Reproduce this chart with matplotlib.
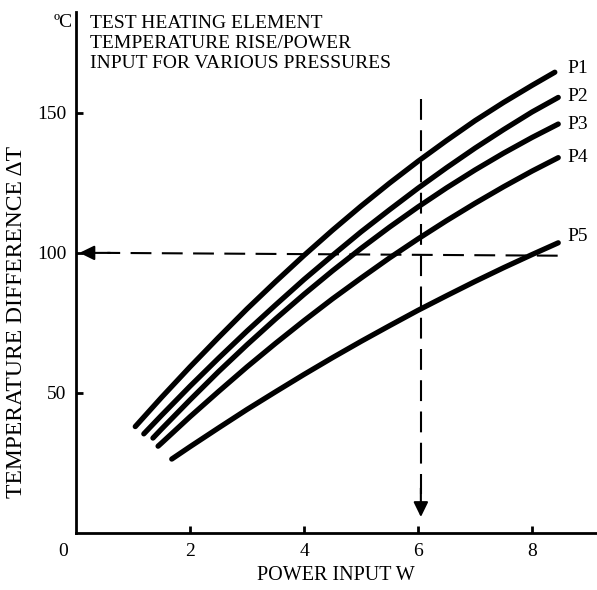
import matplotlib.pyplot as plt

plt.rcParams['font.family'] = ['Liberation Serif', 'DejaVu Serif']

# curves: power input W vs temperature rise
grid_x = [2.0, 2.5, 3.0, 3.5, 4.0, 4.5, 5.0, 5.5, 6.0, 6.5, 7.0, 7.5, 8.0]

p1_x = [1.04, 1.5] + grid_x + [8.40]
p1_y = [38.0, 48.4, 59.3, 69.8, 80.0, 89.7, 99.1, 108.1, 116.7, 124.9, 132.7, 140.1, 147.2, 153.7, 159.8, 164.5]
p2_x = [1.19, 1.5] + grid_x + [8.46]
p2_y = [35.4, 42.0, 52.4, 62.4, 72.1, 81.4, 90.5, 99.1, 107.5, 115.4, 123.1, 130.4, 137.4, 144.0, 150.3, 155.5]
p3_x = [1.35, 1.5] + grid_x + [8.46]
p3_y = [33.9, 37.1, 47.5, 57.6, 67.2, 76.4, 85.2, 93.6, 101.6, 109.2, 116.4, 123.2, 129.6, 135.6, 141.2, 146.0]
p4_x = [1.44, 1.5] + grid_x + [8.46]
p4_y = [31.0, 32.1, 41.5, 50.5, 59.3, 67.7, 75.8, 83.6, 91.0, 98.2, 105.0, 111.5, 117.7, 123.6, 129.2, 134.0]
p5_x = [1.68] + grid_x + [8.46]
p5_y = [26.4, 30.8, 37.5, 44.1, 50.4, 56.6, 62.6, 68.4, 74.0, 79.5, 84.7, 89.8, 94.7, 99.4, 103.6]

curves = [(p1_x, p1_y), (p2_x, p2_y), (p3_x, p3_y), (p4_x, p4_y), (p5_x, p5_y)]
curve_names = ["P1", "P2", "P3", "P4", "P5"]
name_y = [166.0, 155.7, 145.7, 134.0, 105.7]

x_ticks = [2, 4, 6, 8]
y_ticks = [50, 100, 150]

title_lines = ["TEST HEATING ELEMENT", "TEMPERATURE RISE/POWER", "INPUT FOR VARIOUS PRESSURES"]

# example reading: 6 W and 100 degrees
read_x = 6.05
read_y = 100.0

fig = plt.figure(figsize=(5.97, 5.90), dpi=100)
ax = fig.add_axes([76/597, 57/590, 521/597, 521/590])
ax.set_xlim(0, 9.14)
ax.set_ylim(0, 186)

for (xs, ys) in curves:
    ax.plot(xs, ys, color='black', lw=3.8, solid_capstyle='round', solid_joinstyle='round')

for name, yy in zip(curve_names, name_y):
    ax.text(8.62, yy, name, fontsize=14, va='center', ha='left')

# dashed reading lines with arrows
dash = (0, (10, 5))
arrow = dict(arrowstyle='-|>,head_length=0.45,head_width=0.22',
             color='black', lw=1.5, mutation_scale=20, shrinkA=0, shrinkB=0)
ax.plot([read_x, read_x], [155, 14], color='black', lw=1.5, linestyle=dash)
ax.annotate('', xy=(read_x, 5.7), xytext=(read_x, 16), arrowprops=arrow)
ax.plot([8.45, 0.55], [read_y - 1, read_y], color='black', lw=1.5, linestyle=dash)
ax.annotate('', xy=(0.06, read_y), xytext=(0.6, read_y), arrowprops=arrow)

for s in ['top', 'right']:
    ax.spines[s].set_visible(False)
for s in ['left', 'bottom']:
    ax.spines[s].set_linewidth(2)

ax.set_xticks(x_ticks)
ax.set_yticks(y_ticks)
ax.tick_params(direction='in', length=5, width=2, labelsize=14, pad=7)
ax.annotate('0', xy=(0, 0), xytext=(-9, -7), textcoords='offset points',
            fontsize=14, ha='center', va='top', annotation_clip=False)

fig.text(336/597, 1 - 576/590, 'POWER INPUT W', fontsize=14.5, ha='center', va='center')
fig.text(17/597, 1 - 322/590, 'TEMPERATURE DIFFERENCE \u0394T', rotation=90,
         fontsize=17, ha='center', va='center')

fig.text(63/597, 1 - 27/590, '\u00baC', fontsize=14, ha='center', va='baseline')
for i, line in enumerate(title_lines):
    fig.text(90/597, 1 - (28 + 20 * i)/590, line, fontsize=14, ha='left', va='baseline')

fig.savefig('out.png', dpi=100)
